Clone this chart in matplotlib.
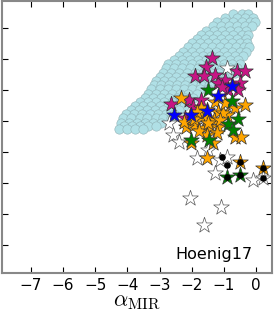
import numpy as np
import matplotlib.pyplot as plt

plt.rcParams['mathtext.fontset'] = 'cm'

# cloud of comparison points (light blue circles): rows of (y, x values)
cloud_rows = [
    (7.45, [-0.7, -0.45, -0.25]),
    (7.32, [-0.95, -0.58, -0.33, -0.1]),
    (7.18, [-1.2, -0.95, -0.7, -0.45, -0.2, -0.03]),
    (7.05, [-1.35, -1.1, -0.85, -0.6, -0.35, -0.12]),
    (6.91, [-1.55, -1.3, -1.05, -0.8, -0.55, -0.3]),
    (6.78, [-1.7, -1.45, -1.2, -0.95, -0.7, -0.45, -0.25]),
    (6.64, [-1.85, -1.6, -1.35, -1.1, -0.85, -0.6, -0.3]),
    (6.50, [-2.0, -1.75, -1.5, -1.25, -1.0, -0.75, -0.5, -0.28]),
    (6.37, [-2.12, -1.87, -1.62, -1.37, -1.12, -0.87, -0.62, -0.37, -0.22]),
    (6.23, [-2.27, -2.0, -1.75, -1.5, -1.25, -1.0, -0.75, -0.5, -0.3]),
    (6.10, [-2.4, -2.15, -1.9, -1.65, -1.4, -1.15, -0.9, -0.65, -0.4]),
    (5.97, [-2.55, -2.3, -2.05, -1.8, -1.55, -1.3, -1.05, -0.8, -0.55]),
    (5.83, [-2.74, -2.5, -2.25, -2.0, -1.75, -1.5, -1.25, -1.0, -0.75, -0.5]),
    (5.70, [-2.8, -2.55, -2.3, -2.05, -1.8, -1.55, -1.3, -1.05, -0.8, -0.6]),
    (5.56, [-2.9, -2.65, -2.4, -2.15, -1.9, -1.65, -1.4, -1.15, -0.9, -0.65]),
    (5.43, [-3.0, -2.75, -2.5, -2.25, -2.0, -1.75, -1.5, -1.25, -1.0]),
    (5.29, [-3.1, -2.85, -2.6, -2.35, -2.1, -1.85, -1.6, -1.35, -1.1]),
    (5.15, [-3.18, -2.95, -2.7, -2.45, -2.2, -1.95, -1.7, -1.45]),
    (5.02, [-3.25, -3.0, -2.75, -2.5, -2.25, -2.0, -1.75, -1.5]),
    (4.88, [-3.35, -3.1, -2.85, -2.6, -2.35, -2.1, -1.85]),
    (4.75, [-3.45, -3.2, -2.95, -2.7, -2.45, -2.2, -1.95]),
    (4.60, [-3.6, -3.35, -3.1, -2.85, -2.6, -2.35, -2.1]),
    (4.48, [-3.75, -3.5, -3.25, -3.0, -2.75, -2.5, -2.25]),
    (4.35, [-3.9, -3.65, -3.4, -3.15, -2.9, -2.65, -2.4]),
    (4.21, [-4.05, -3.8, -3.55, -3.3, -3.05, -2.8, -2.55]),
    (4.08, [-4.12, -3.88, -3.62, -3.38, -3.12, -2.88, -2.65]),
    (3.94, [-4.2, -3.95, -3.7, -3.45, -3.2, -2.95]),
    (3.85, [-4.1, -3.85, -3.6, -3.35, -3.1]),
    (3.75, [-4.25, -4.0, -3.75, -3.5]),
]

white_x = [-0.89, -2.71, -2.58, -2.4, -1.82, -1.48, -1.11, -0.89, -1.29, -0.09, 0.22, -2.06, -1.08, -1.63]
white_y = [5.71, 3.94, 3.55, 3.32, 2.81, 3.06, 2.74, 2.84, 2.32, 2.1, 2.16, 1.52, 1.23, 0.65]

magenta_x = [-1.38, -1.57, -1.91, -1.63, -1.29, -1.17, -0.95, -0.58, -0.34, -0.49, -0.74, -0.55,
             -0.86, -1.05, -2.65, -2.09, -1.72, -1.97, -2.22]
magenta_y = [6.03, 5.74, 5.45, 5.45, 5.48, 5.23, 5.32, 5.61, 5.61, 5.23, 5.16, 5.0,
             5.0, 5.1, 4.55, 4.68, 4.68, 4.45, 4.1]

orange_x = [-2.34, -0.34, -0.65, -1.26, -1.51, -1.17, -0.89, -1.72, -1.51, -1.32, -1.94, -2.18,
            -1.63, -1.42, -1.17, -1.2, -1.51, -2.03, -0.65, -0.46, -1.35, -1.02, -2.25, -1.94,
            -1.78, -1.48, -1.72, -1.11, -1.51, -0.49, 0.22, -1.85, -0.95]
orange_y = [4.74, 4.52, 4.42, 4.61, 4.35, 4.29, 4.19, 4.13, 4.1, 4.03, 3.87, 3.81,
            3.77, 3.81, 3.81, 3.61, 3.55, 3.29, 3.48, 3.48, 3.29, 4.26, 3.97, 4.06,
            3.68, 3.94, 4.42, 4.03, 2.81, 2.68, 2.48, 4.29, 4.58]

green_x = [-1.48, -0.74, -0.55, -0.86, -0.71, -2.03, -1.45, -0.89, -0.49]
green_y = [5.0, 4.65, 4.06, 3.9, 3.71, 3.39, 3.39, 2.19, 2.26]

blue_x = [-2.55, -2.03, -1.51, -1.17, -0.74]
blue_y = [4.19, 4.19, 4.32, 4.81, 5.13]

black_x = [-1.05, -0.89, -0.89, -0.49, -0.49, 0.22, 0.22]
black_y = [2.84, 2.58, 2.19, 2.68, 2.26, 2.48, 2.16]

xticks = [-7, -6, -5, -4, -3, -2, -1, 0]
yticks = [0, 1, 2, 3, 4, 5, 6, 7]

fig = plt.figure(figsize=(2.74, 3.13), dpi=100)
ax = fig.add_axes([0.007, 0.128, 0.986, 0.869])

cx = [x for y, xs in cloud_rows for x in xs]
cy = [y for y, xs in cloud_rows for x in xs]
ax.scatter(cx, cy, s=45, c='powderblue', edgecolors='#8fb0b4', linewidths=0.4, zorder=1)

star = dict(marker='*', s=140, linewidths=0.5, zorder=2)
ax.scatter(white_x, white_y, c='white', edgecolors='#555555', **star)
ax.scatter(magenta_x, magenta_y, c='mediumvioletred', edgecolors='#333333', **star)
ax.scatter(orange_x, orange_y, c='orange', edgecolors='#333333', **star)
ax.scatter(green_x, green_y, c='green', edgecolors='#333333', **star)
ax.scatter(blue_x, blue_y, c='blue', edgecolors='#333333', **star)
ax.scatter(black_x, black_y, s=14, c='black', zorder=3)

ax.text(-0.12, -0.3, 'Hoenig17', ha='right', va='center', fontsize=11.5)

ax.set_xlim(-7.9, 0.5)
ax.set_ylim(-0.9, 7.87)
ax.set_xticks(xticks)
ax.set_yticks(yticks)
ax.set_yticklabels([])
ax.tick_params(direction='in', top=True, right=True, length=4, labelsize=11, pad=4)
for sp in ax.spines.values():
    sp.set_color('#888888')
    sp.set_linewidth(1.5)
ax.set_xlabel(r'$\alpha_{\rm MIR}$', fontsize=16, labelpad=-1)

plt.savefig('out.png', dpi=100)
